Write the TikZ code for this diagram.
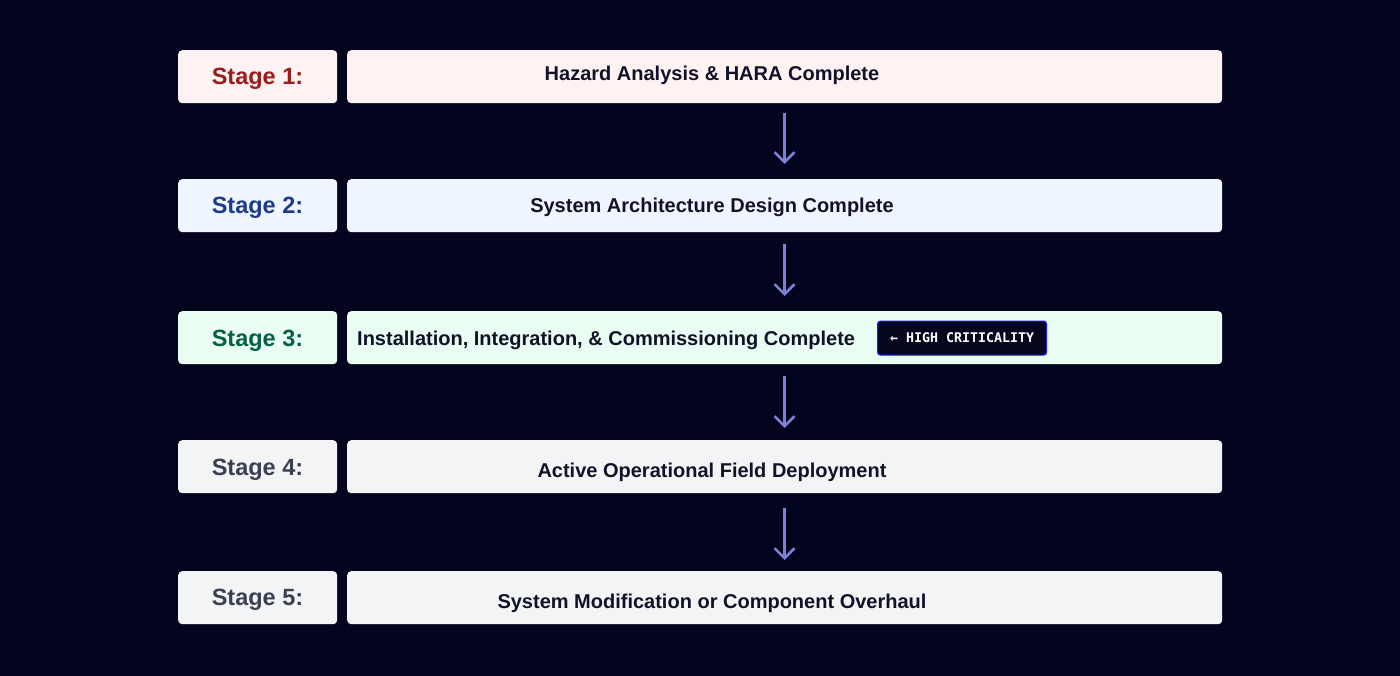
\documentclass[tikz,border=0pt]{standalone}
\usepackage{fontspec}
\setmainfont{Liberation Sans}
\newfontfamily\monofont{DejaVu Sans Mono}
\usetikzlibrary{arrows.meta}
\definecolor{bgc}{RGB}{3,4,30}
\definecolor{txt}{RGB}{17,18,40}
\definecolor{arr}{RGB}{124,128,216}
\definecolor{fillA}{RGB}{254,242,242}
\definecolor{fillB}{RGB}{239,246,255}
\definecolor{fillC}{RGB}{234,253,243}
\definecolor{fillD}{RGB}{243,244,246}
\definecolor{labA}{RGB}{155,28,28}
\definecolor{labB}{RGB}{30,58,138}
\definecolor{labC}{RGB}{6,95,70}
\definecolor{labD}{RGB}{55,65,81}
\definecolor{badgebg}{RGB}{5,6,30}
\definecolor{badgeline}{RGB}{26,26,255}
\tikzset{
  stagebox/.style={rounded corners=4pt, minimum width=159pt, minimum height=53pt, inner sep=0pt, anchor=north west},
  stagetext/.style={anchor=base, inner sep=0pt, font=\fontsize{23.5}{26}\selectfont\bfseries},
  descbox/.style={rounded corners=4pt, minimum width=875pt, minimum height=53pt, inner sep=0pt, anchor=north west},
  desctext/.style={anchor=base, text=txt, font=\fontsize{20}{24}\selectfont\bfseries, inner sep=0pt},
  flowarrow/.style={draw=arr, line width=2.5pt, -{Straight Barb[length=10pt,width=20pt,line width=2.5pt]}},
  badge/.style={fill=badgebg, draw=badgeline, line width=1.2pt, rounded corners=3pt, text=white, minimum width=169pt, minimum height=34pt, inner sep=0pt, font=\monofont\bfseries\fontsize{13.3}{15}\selectfont}
}
\begin{document}
\begin{tikzpicture}[x=1pt,y=-1pt]
\fill[bgc] (0,0) rectangle (1400,676);
\useasboundingbox (0,0) rectangle (1400,676);
% Row 1
\node[stagebox, fill=fillA] (s1) at (178,50) {};
\node[stagetext, text=labA] (l1) at (257.5,85) {Stage 1:};
\node[descbox, fill=fillA] (d1) at (347,50) {};
\node[desctext] (t1) at (712,81) {Hazard Analysis \& HARA Complete};
% Row 2
\node[stagebox, fill=fillB] (s2) at (178,179) {};
\node[stagetext, text=labB] (l2) at (257.5,214) {Stage 2:};
\node[descbox, fill=fillB] (d2) at (347,179) {};
\node[desctext] (t2) at (712,213) {System Architecture Design Complete};
% Row 3
\node[stagebox, fill=fillC] (s3) at (178,311) {};
\node[stagetext, text=labC] (l3) at (257.5,346) {Stage 3:};
\node[descbox, fill=fillC] (d3) at (347,311) {};
\node[desctext, anchor=base west] (t3) at (357,345) {Installation, Integration, \& Commissioning Complete};
\node[badge, anchor=north west] (b3) at (877,320.5) {← HIGH CRITICALITY};
% Row 4
\node[stagebox, fill=fillD] (s4) at (178,440) {};
\node[stagetext, text=labD] (l4) at (257.5,475) {Stage 4:};
\node[descbox, fill=fillD] (d4) at (347,440) {};
\node[desctext] (t4) at (712,477) {Active Operational Field Deployment};
% Row 5
\node[stagebox, fill=fillD] (s5) at (178,571) {};
\node[stagetext, text=labD] (l5) at (257.5,605) {Stage 5:};
\node[descbox, fill=fillD] (d5) at (347,571) {};
\node[desctext] (t5) at (712,608) {System Modification or Component Overhaul};
% Arrows
\coordinate (a1s) at (784.5,113); \coordinate (a1e) at (784.5,164);
\coordinate (a2s) at (784.5,244); \coordinate (a2e) at (784.5,296);
\coordinate (a3s) at (784.5,376); \coordinate (a3e) at (784.5,428);
\coordinate (a4s) at (784.5,508); \coordinate (a4e) at (784.5,560);
\draw[flowarrow] (a1s) -- (a1e);
\draw[flowarrow] (a2s) -- (a2e);
\draw[flowarrow] (a3s) -- (a3e);
\draw[flowarrow] (a4s) -- (a4e);
\end{tikzpicture}
\end{document}
